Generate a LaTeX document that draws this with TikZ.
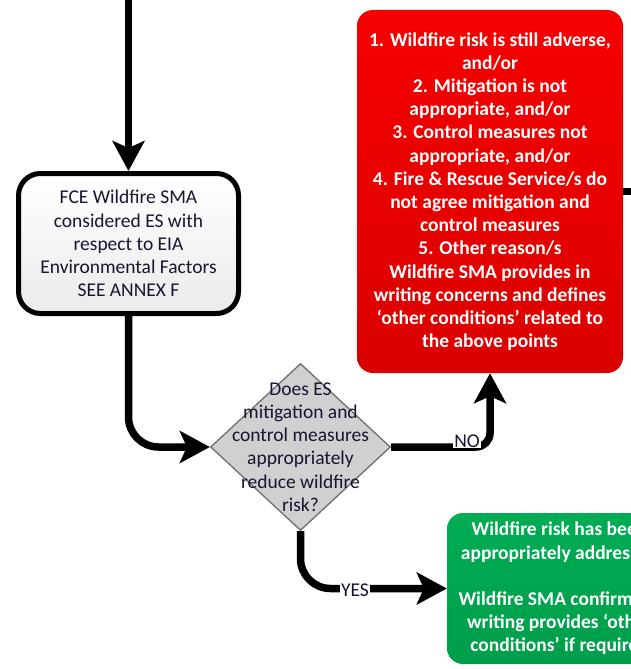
\documentclass[tikz,border=0pt]{standalone}
\usepackage{fontspec}
\setmainfont{Carlito}
\usetikzlibrary{arrows.meta,shapes.geometric}

\definecolor{inkdark}{RGB}{22,22,48}
\definecolor{redtop}{RGB}{246,0,0}
\definecolor{redbot}{RGB}{218,0,0}
\definecolor{greentop}{RGB}{0,172,84}
\definecolor{greenbot}{RGB}{0,158,74}
\definecolor{diafill}{RGB}{208,208,208}
\definecolor{diaedge}{RGB}{110,110,110}

\begin{document}
\begin{tikzpicture}[x=1pt,y=-1pt,
  txt/.style={font=\fontsize{19.5}{23.2}\selectfont, align=center, inner sep=0pt},
  conn/.style={line width=7.5pt, draw=black},
  tipped/.style={-{Stealth[length=30pt,width=32pt,inset=7pt]}},
  fcebox/.style={txt, text=inkdark, draw=black, line width=5pt,
    rounded corners=22pt, minimum width=220pt, minimum height=140pt,
    top color=white, bottom color=gray!16},
  redbox/.style={txt, font=\fontsize{19.5}{23.2}\selectfont\bfseries, text=white,
    rounded corners=16pt, minimum width=266pt, minimum height=363pt,
    top color=redtop, bottom color=redbot},
  greenbox/.style={txt, font=\fontsize{19.5}{23.2}\selectfont\bfseries, text=white,
    rounded corners=16pt, minimum width=225pt, minimum height=151pt,
    top color=greentop, bottom color=greenbot},
  decision/.style={diamond, draw=diaedge, line width=1.3pt, fill=diafill,
    minimum width=180pt, minimum height=167pt, inner sep=0pt},
  lbl/.style={txt, text=inkdark, fill=white, inner sep=0.8pt}
]
\useasboundingbox (0,0) rectangle (631,669);
\clip (0,0) rectangle (631,669);

% boxes
\node[fcebox] (fce) at (128.5,243.5)
  {FCE Wildfire SMA\\considered ES with\\respect to EIA\\Environmental Factors\\SEE ANNEX F};

\node[redbox] (red) at (490,191.5)
  {1. Wildfire risk is still adverse,\\and/or\\2. Mitigation is not\\appropriate, and/or\\
   3. Control measures not\\appropriate, and/or\\4. Fire \& Rescue Service/s do\\
   not agree mitigation and\\control measures\\5. Other reason/s\\
   Wildfire SMA provides in\\writing concerns and defines\\‘other conditions’ related to\\the above points};

\node[greenbox] (green) at (559.5,588.5)
  {Wildfire risk has been\\appropriately addressed\\[23.2pt]
   Wildfire SMA confirms in\\writing provides ‘other\\conditions’ if required};

% decision
\node[decision] (dia) at (300.5,447) {};
\node[txt, text=inkdark] (diq) at (dia.center)
  {Does ES\\mitigation and\\control measures\\appropriately\\reduce wildfire\\risk?};

% free ends of the connectors
\coordinate (topin) at (128.5,-10);
\coordinate (offr) at (645,191.5);

% connectors
\draw[conn,tipped] (topin) -- (fce.north);
\draw[conn,tipped,rounded corners=30pt] (fce.south) |- (dia.west);
\draw[conn,tipped,rounded corners=14pt] (dia.east) -| (red.south);
\draw[conn,tipped,rounded corners=30pt] (dia.south) |- (green.west);
\draw[conn] (red.east) -- (offr);

% branch labels
\node[lbl] (no) at (467,441) {NO};
\node[lbl] (yes) at (355,590) {YES};
\end{tikzpicture}
\end{document}
